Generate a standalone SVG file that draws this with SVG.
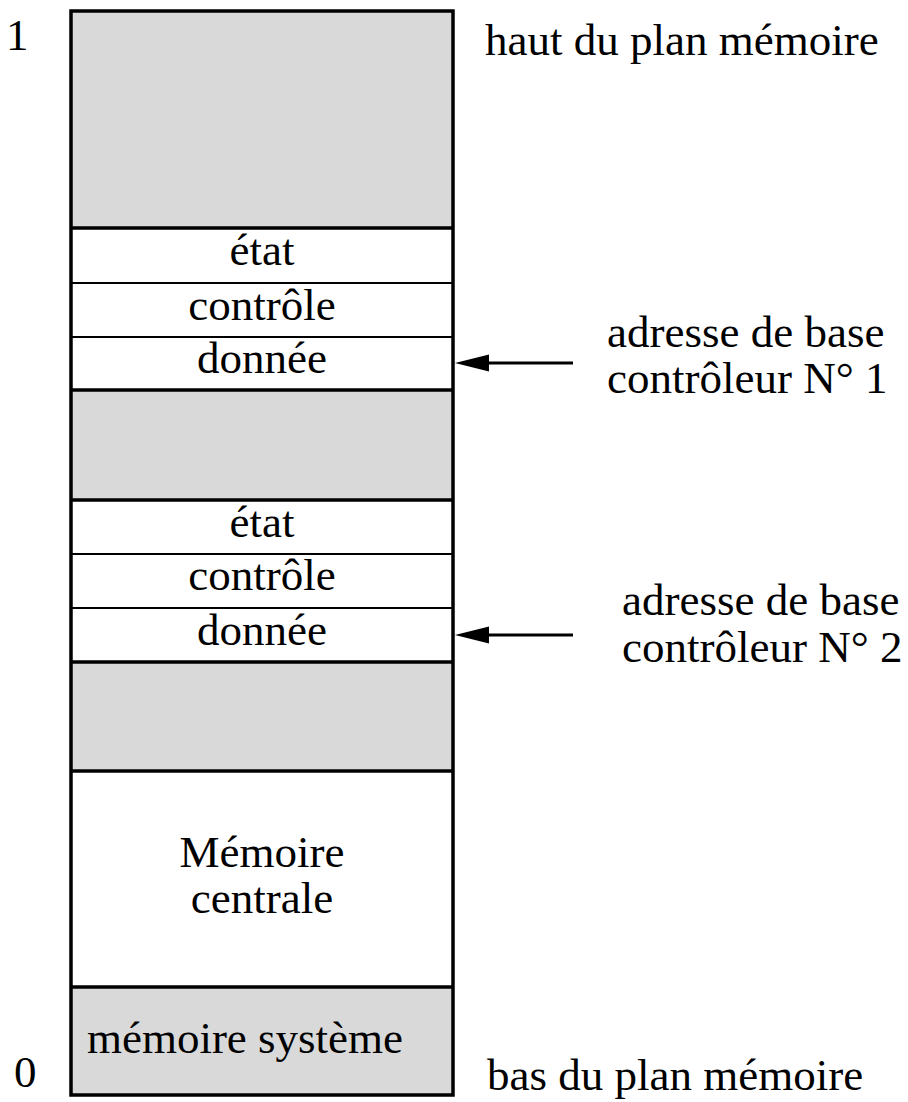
<svg xmlns="http://www.w3.org/2000/svg" width="908" height="1102" viewBox="0 0 908 1102">
<defs>
<style>
text{font-family:"Liberation Serif","Times New Roman",serif;font-size:45px;fill:#000}
.c{text-anchor:middle}
.g{fill:#d9d9d9;stroke:none}
.sep{stroke:#000;stroke-width:3.5}
.thin{stroke:#000;stroke-width:2}
.conn{stroke:#000;stroke-width:3;fill:none}
</style>
</defs>
<rect x="0" y="0" width="908" height="1102" fill="#fff"/>
<g id="gray-top"><rect class="g" x="71" y="11" width="382" height="217"/></g>
<g id="ctrl1">
<line class="sep" x1="71" y1="228" x2="453" y2="228"/>
<text class="c" x="262" y="265">état</text>
<line class="thin" x1="71" y1="283" x2="453" y2="283"/>
<text class="c" x="262" y="320">contrôle</text>
<line class="thin" x1="71" y1="337" x2="453" y2="337"/>
<text class="c" x="262" y="373">donnée</text>
</g>
<g id="gray-mid1"><rect class="g" x="71" y="390" width="382" height="110"/>
<line class="sep" x1="71" y1="390" x2="453" y2="390"/></g>
<g id="ctrl2">
<line class="sep" x1="71" y1="500" x2="453" y2="500"/>
<text class="c" x="262" y="537">état</text>
<line class="thin" x1="71" y1="554" x2="453" y2="554"/>
<text class="c" x="262" y="590">contrôle</text>
<line class="thin" x1="71" y1="608" x2="453" y2="608"/>
<text class="c" x="262" y="645">donnée</text>
</g>
<g id="gray-mid2"><rect class="g" x="71" y="662" width="382" height="109"/>
<line class="sep" x1="71" y1="662" x2="453" y2="662"/></g>
<g id="memoire-centrale">
<line class="sep" x1="71" y1="771" x2="453" y2="771"/>
<text class="c" x="262" y="867">Mémoire</text>
<text class="c" x="262" y="913">centrale</text>
</g>
<g id="memoire-systeme">
<rect class="g" x="71" y="987" width="382" height="108"/>
<line class="sep" x1="71" y1="987" x2="453" y2="987"/>
<text class="c" x="245" y="1053">mémoire système</text>
</g>
<g id="outline"><rect x="71" y="11" width="382" height="1084" fill="none" stroke="#000" stroke-width="3.5"/></g>
<g id="labels">
<text x="6" y="50">1</text>
<text x="14" y="1087">0</text>
<text x="485" y="55">haut du plan mémoire</text>
<text x="487" y="1090">bas du plan mémoire</text>
<text x="607" y="347">adresse de base</text>
<text x="607" y="393">contrôleur N° 1</text>
<text x="622" y="615">adresse de base</text>
<text x="622" y="662">contrôleur N° 2</text>
</g>
<g id="connectors">
<line class="conn" x1="573" y1="363" x2="488" y2="363"/>
<path d="M455,363 L489,354.5 L489,371.5 Z" fill="#000"/>
<line class="conn" x1="573" y1="635" x2="488" y2="635"/>
<path d="M455,635 L489,626.5 L489,643.5 Z" fill="#000"/>
</g>
</svg>
